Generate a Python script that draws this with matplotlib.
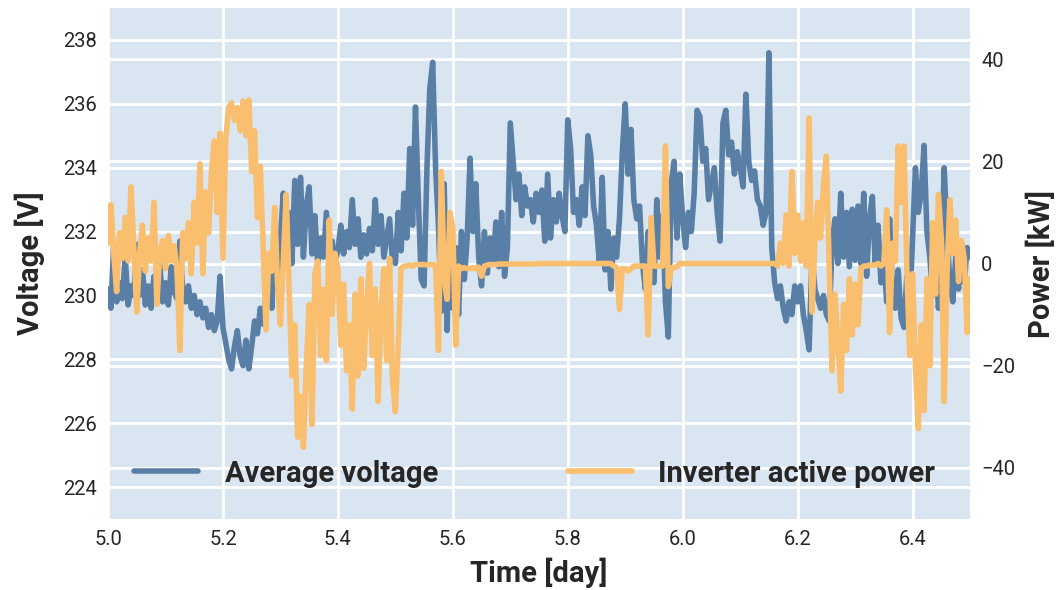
import numpy as np
import matplotlib
matplotlib.use("Agg")
import matplotlib.pyplot as plt

plt.rcParams['font.family'] = ['Roboto', 'DejaVu Sans']

# tension moyenne (V), un point toutes les 0.005 jour de 5.0 a 6.5
voltage = [
    230.2, 229.6, 231.6, 229.8, 230.4, 229.9, 231.2, 229.7, 230.3, 230.0,
    231.6, 230.0, 230.8, 229.7, 230.3, 229.6, 230.6, 229.9, 231.0, 229.8,
    230.4, 229.7, 230.9, 230.1, 229.9, 231.7, 230.2, 229.8, 230.3, 229.6,
    230.0, 229.4, 229.8, 229.3, 229.6, 229.0, 229.4, 228.9, 229.2, 230.6,
    229.0, 228.5, 228.0, 227.7, 228.4, 228.9, 228.1, 227.8, 228.6, 227.7,
    228.4, 229.2, 228.8, 229.6, 229.1, 230.0, 231.2, 229.6, 231.5, 230.2,
    231.8, 233.2, 231.4, 232.6, 231.0, 233.6, 231.6, 233.7, 231.2, 232.8,
    233.4, 231.3, 232.5, 231.0, 231.8, 231.2, 232.6, 231.1, 231.7, 231.0,
    231.4, 232.2, 231.3, 232.0, 231.5, 233.0, 231.6, 232.4, 231.2, 231.9,
    231.3, 232.1, 231.4, 233.0, 231.6, 232.5, 231.2, 231.8, 232.4, 231.1,
    231.0, 232.6, 231.4, 233.2, 231.8, 234.6, 232.2, 235.9, 233.0, 230.5,
    230.3, 234.0, 236.5, 237.3, 234.0, 232.2, 229.5, 233.5, 228.9, 232.5,
    229.6, 231.5, 229.4, 232.0, 230.5, 231.8, 234.3, 232.0, 233.5, 231.2,
    230.3, 232.0, 230.7, 231.8, 231.0, 232.3, 230.9, 232.6, 230.6, 231.5,
    235.4, 234.2, 233.0, 233.8, 232.5, 233.4, 232.8, 233.0, 232.3, 233.2,
    232.6, 233.3, 231.7, 233.8, 231.8, 233.0, 232.3, 233.2, 232.5, 232.0,
    235.5, 234.6, 232.6, 233.0, 232.2, 233.4, 232.5, 235.0, 234.4, 232.8,
    232.2, 231.0, 233.7, 230.8, 232.0, 230.2, 231.8, 231.2, 232.4, 234.5,
    236.0, 233.8, 235.2, 233.0, 232.4, 232.8, 231.0, 230.2, 232.0, 230.8,
    230.4, 233.0, 231.2, 232.5, 229.8, 228.7, 233.5, 234.2, 231.8, 233.8,
    232.4, 231.5, 232.6, 232.0, 233.2, 235.8, 235.6, 234.2, 234.6, 233.0,
    233.5, 234.0, 232.6, 231.7, 235.4, 235.8, 234.4, 234.8, 233.8, 234.5,
    234.0, 233.4, 236.3, 234.2, 233.6, 233.9, 233.0, 232.8, 232.2, 232.6,
    237.6, 231.5, 230.4, 229.9, 230.3, 229.6, 229.2, 229.8, 229.4, 230.3,
    229.8, 230.3, 229.4, 228.9, 228.3, 231.3, 230.2, 229.9, 229.6, 230.0,
    229.4, 229.2, 231.6, 232.4, 231.0, 233.2, 231.2, 232.6, 230.9, 232.7,
    231.1, 232.8, 231.0, 233.2, 230.6, 232.4, 233.1, 231.0, 232.2, 230.4,
    231.2, 229.8, 232.4, 230.2, 229.6, 230.8, 229.3, 229.0, 230.6, 229.4,
    231.8, 234.0, 232.6, 233.2, 234.7, 232.0, 231.2, 230.0, 231.4, 229.6,
    230.8, 234.0, 232.0, 230.4, 229.8, 231.2, 230.2, 231.6, 230.4, 231.5,
    231.2,
]

# puissance active onduleur (kW), meme grille de temps
power = [
    4.0, 11.5, 2.0, -5.5, 6.0, 1.0, 9.0, 0.5, 15.0, 3.0,
    -9.5, 2.0, 7.5, -1.5, 5.0, 0.5, 12.0, -8.0, 2.0, 4.5,
    -1.0, 5.5, 0.5, 3.5, -1.0, -17.0, 6.0, 1.0, 8.0, -2.0,
    12.0, 4.0, 19.5, -2.0, 14.0, 6.0, 18.0, 24.0, 10.0, 25.5,
    1.0, 24.5, 30.5, 31.5, 28.0, 30.5, 26.0, 31.8, 25.0, 32.0,
    18.0, 26.0, 9.0, 19.0, 3.0, -13.0, 2.0, -1.5, 11.0, -4.0,
    -12.0, 0.5, 13.5, -4.0, -22.0, -12.0, -34.0, -26.0, -36.0, -20.0,
    -8.0, -31.5, -2.0, 0.5, -18.0, -5.0, -19.0, 8.5, -10.0, 2.0,
    -1.0, -16.0, -4.0, -21.0, -12.0, -28.5, -6.0, -22.0, -3.0, -20.5,
    -8.0, 0.0, -18.0, -5.0, -27.0, -10.0, -1.0, -19.0, 1.0, -23.0,
    -29.0, -16.0, -1.0, -0.5, -0.5, -0.3, -0.5, -0.2, -0.2, -0.2,
    -0.2, -0.3, -0.2, -0.2, -0.3, -17.0, 18.0, -3.0, -7.0, 10.0,
    7.0, -16.0, -0.5, -1.0, -0.8, -1.0, -1.0, -0.8, -1.0, -0.7,
    -2.5, -0.5, -0.3, -0.2, -0.2, -0.2, -0.1, -0.1, -0.1, -0.1,
    -0.1, -0.1, -0.1, -0.1, -0.1, -0.1, -0.1, -0.1, -0.1, -0.1,
    0.0, 0.0, 0.0, 0.0, 0.0, 0.0, 0.0, 0.0, 0.0, 0.0,
    0.0, 0.0, 0.0, 0.0, 0.0, 0.0, 0.0, 0.0, 0.0, 0.0,
    0.0, 0.0, 0.0, 0.0, 0.0, 0.0, -0.5, -0.8, -9.0, -1.0,
    -1.0, -1.5, -1.0, -0.5, -0.5, -0.5, -0.5, -0.5, -14.0, 9.0,
    -0.5, -0.5, -0.5, -0.5, 23.0, -4.5, -0.8, -0.8, -0.6, 0.0,
    0.0, 0.0, 0.0, 0.0, 0.0, 0.0, 0.0, 0.0, 0.0, 0.0,
    0.0, 0.0, 0.0, 0.0, 0.0, 0.0, 0.0, 0.0, 0.0, 0.0,
    0.0, 0.0, 0.0, 0.0, 0.0, 0.0, 0.0, 0.0, 0.0, 0.0,
    0.0, 0.0, 0.0, -0.5, 4.0, 0.0, 9.5, -0.5, 18.0, 2.0,
    9.5, 0.5, 8.0, -0.5, 28.5, -9.5, 4.0, 12.0, 5.0, 15.5,
    21.0, -1.0, -21.0, -6.0, -15.0, -25.0, -8.0, -17.0, -3.0, -14.0,
    -4.0, -12.0, -1.0, -0.5, -0.5, -0.3, -0.3, -0.3, 0.0, -0.5,
    0.0, 10.5, -13.5, 4.0, 0.5, 23.0, 12.0, 23.0, -1.0, -18.0,
    -2.0, -20.0, -32.3, -12.0, -28.8, -3.0, -20.0, 8.0, -6.0, 13.5,
    5.0, -27.0, -2.0, 12.5, 2.0, 8.5, -3.5, 4.5, 1.0, -13.5,
    -3.0,
]

t = np.linspace(5.0, 6.5, len(voltage))

c_volt = "#5a7fa6"
c_pow = "#f9bf6f"
bg = "#d9e6f1"
txt = "#262626"

fig = plt.figure(figsize=(10.62, 5.9), dpi=100)
rect = [0.1017, 0.1203, 0.8117, 0.8661]

# axe du fond: grille de la puissance
ax_g = fig.add_axes(rect)
ax_g.set_facecolor(bg)
ax_g.set_xlim(5.0, 6.5)
ax_g.set_ylim(-50, 50)
ax_g.set_yticks([-40, -20, 0, 20, 40])
ax_g.tick_params(left=False, labelleft=False, bottom=False, labelbottom=False)
ax_g.grid(True, axis='y', color='white', lw=2)
for s in ax_g.spines.values():
    s.set_visible(False)

# tension
ax = fig.add_axes(rect)
ax.patch.set_visible(False)
ax.plot(t, voltage, color=c_volt, lw=4.0, solid_capstyle='round', label="Average voltage")
ax.set_ylim(223, 239)
ax.set_yticks(np.arange(224, 239, 2))
ax.set_xticks([5.0, 5.2, 5.4, 5.6, 5.8, 6.0, 6.2, 6.4])
ax.set_xlim(5.0, 6.5)
ax.grid(True, color='white', lw=2)
ax.tick_params(length=0, labelsize=14.5, colors=txt, pad=8)
ax.set_xlabel("Time [day]", fontsize=21, fontweight='bold', color=txt, labelpad=6)
ax.set_ylabel("Voltage [V]", fontsize=21, fontweight='bold', color=txt, labelpad=13)
for s in ax.spines.values():
    s.set_visible(False)

# puissance
ax2 = ax.twinx()
ax2.plot(t, power, color=c_pow, lw=4.0, solid_capstyle='round', label="Inverter active power")
ax2.set_ylim(-50, 50)
ax2.set_yticks([-40, -20, 0, 20, 40])
ax2.tick_params(length=0, labelsize=14.5, colors=txt, pad=8)
ax2.set_ylabel("Power [kW]", fontsize=21, fontweight='bold', color=txt, labelpad=8)
for s in ax2.spines.values():
    s.set_visible(False)

h1, l1 = ax.get_legend_handles_labels()
h2, l2 = ax2.get_legend_handles_labels()
ax2.legend(h1 + h2, l1 + l2, ncol=2, mode='expand', frameon=False,
           bbox_to_anchor=(0.0, 0.01, 0.99, 0.1), loc='lower left',
           prop={'weight': 'bold', 'size': 21}, handlelength=2.2,
           handletextpad=0.9, labelcolor=txt)

fig.savefig("out.png", dpi=100)
